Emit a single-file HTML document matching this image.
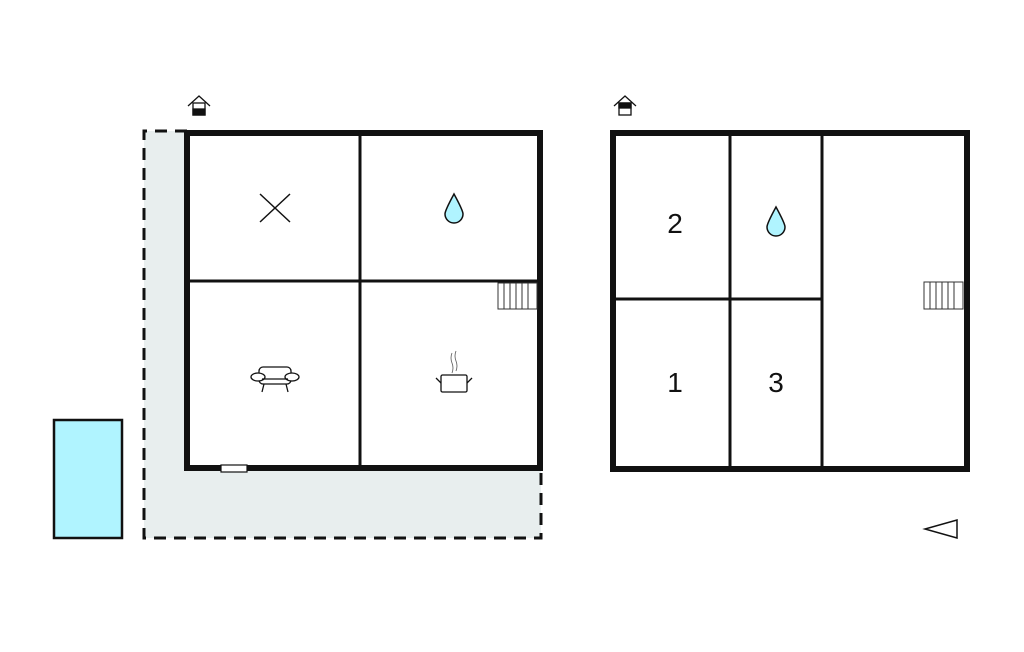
<!DOCTYPE html>
<html><head><style>html,body{margin:0;padding:0;background:#fff;}svg{display:block}</style></head>
<body>
<svg width="1024" height="652" viewBox="0 0 1024 652" xmlns="http://www.w3.org/2000/svg" font-family="Liberation Sans, sans-serif">
<!-- terrace -->
<path d="M144,131 H187 V468 H541 V538 H144 Z" fill="#e8eeee"/>
<path d="M187,131 H144 V538 H541 V468" fill="none" stroke="#111" stroke-width="3" stroke-dasharray="12,8"/>
<!-- pool -->
<rect x="54" y="420" width="68" height="118" fill="#b0f4ff" stroke="#111" stroke-width="2.5"/>
<!-- left building -->
<rect x="187" y="133" width="353" height="335" fill="#fff" stroke="#111" stroke-width="6"/>
<line x1="360" y1="133" x2="360" y2="468" stroke="#111" stroke-width="3"/>
<line x1="187" y1="281" x2="540" y2="281" stroke="#111" stroke-width="3"/>
<g stroke="#333" stroke-width="1" fill="#fff">
<rect x="498" y="283" width="39" height="26"/>
<line x1="504" y1="283" x2="504" y2="309"/><line x1="510" y1="283" x2="510" y2="309"/><line x1="516" y1="283" x2="516" y2="309"/><line x1="522" y1="283" x2="522" y2="309"/><line x1="528" y1="283" x2="528" y2="309"/>
</g>
<rect x="221" y="465" width="26" height="7" fill="#fff" stroke="#111" stroke-width="1.2"/>
<!-- X icon -->
<g stroke="#111" stroke-width="1.5"><line x1="260" y1="194" x2="290" y2="222"/><line x1="290" y1="194" x2="260" y2="222"/></g>
<!-- drop -->
<path d="M454,194 C448,205 445,211 445,214 A9,9 0 0 0 463,214 C463,211 460,205 454,194 Z" fill="#b0f4ff" stroke="#111" stroke-width="1.5"/>
<!-- sofa -->
<g stroke="#111" stroke-width="1.3" fill="#fff">
<rect x="259" y="367" width="32" height="17" rx="4"/>
<ellipse cx="258" cy="377" rx="7" ry="4"/><ellipse cx="292" cy="377" rx="7" ry="4"/>
<line x1="264" y1="384" x2="262" y2="392"/><line x1="286" y1="384" x2="288" y2="392"/>
<line x1="262" y1="379" x2="288" y2="379"/>
</g>
<!-- pot -->
<g stroke="#111" stroke-width="1.3" fill="#fff">
<rect x="441" y="375" width="26" height="17" rx="1.5"/>
<line x1="436" y1="378" x2="441" y2="383"/><line x1="472" y1="378" x2="467" y2="383"/>
</g>
<path d="M452,353 q-2,5 0,10 q2,5 0,10 M456,351 q-2,5 0,10 q2,5 0,10" fill="none" stroke="#555" stroke-width="0.8"/>
<!-- entrance icons -->
<g stroke="#111" stroke-width="1.3" fill="#fff">
<path d="M188,106 L199,96 L210,106" fill="none"/>
<rect x="193" y="103" width="12" height="12"/>
<rect x="193" y="109" width="12" height="6" fill="#111"/>
<path d="M614,106 L625,96 L636,106" fill="none"/>
<rect x="619" y="103" width="12" height="12"/>
<rect x="619" y="103" width="12" height="5" fill="#111"/>
</g>
<!-- right building -->
<rect x="613" y="133" width="354" height="336" fill="#fff" stroke="#111" stroke-width="6"/>
<line x1="730" y1="133" x2="730" y2="469" stroke="#111" stroke-width="3"/>
<line x1="822" y1="133" x2="822" y2="469" stroke="#111" stroke-width="3"/>
<line x1="613" y1="299" x2="822" y2="299" stroke="#111" stroke-width="3"/>
<g stroke="#333" stroke-width="1" fill="#fff">
<rect x="924" y="282" width="39" height="27"/>
<line x1="930" y1="282" x2="930" y2="309"/><line x1="936" y1="282" x2="936" y2="309"/><line x1="942" y1="282" x2="942" y2="309"/><line x1="948" y1="282" x2="948" y2="309"/><line x1="954" y1="282" x2="954" y2="309"/>
</g>
<path d="M776,207 C770,218 767,224 767,227 A9,9 0 0 0 785,227 C785,224 782,218 776,207 Z" fill="#b0f4ff" stroke="#111" stroke-width="1.5"/>
<g font-size="28" fill="#111" text-anchor="middle">
<text x="675" y="233">2</text>
<text x="675" y="392">1</text>
<text x="776" y="392">3</text>
</g>
<!-- compass -->
<path d="M957,520 L957,538 L925,529 Z" fill="#fff" stroke="#111" stroke-width="1.5"/>
</svg>
</body></html>
